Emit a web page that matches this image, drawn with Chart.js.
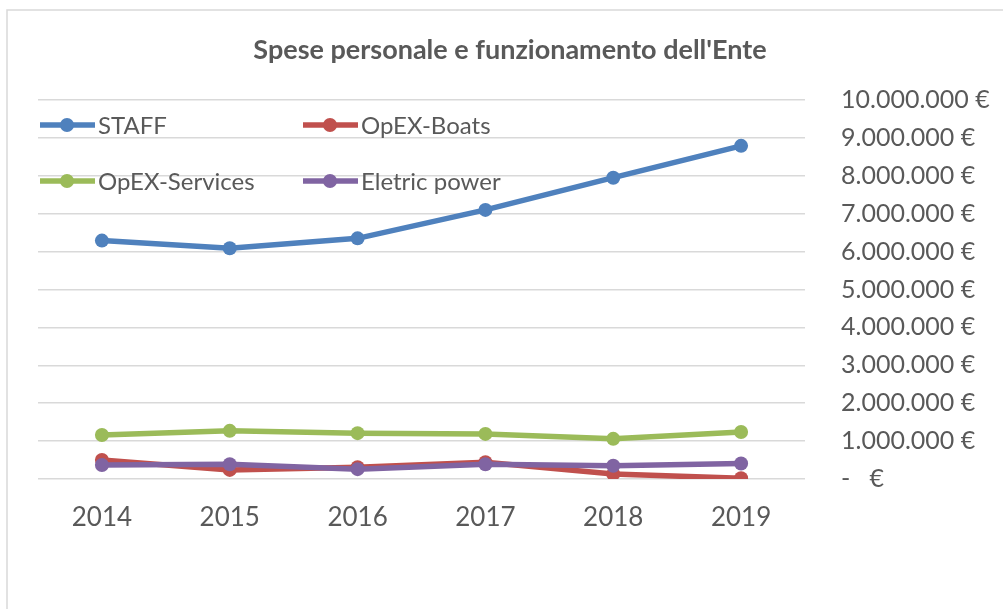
<!DOCTYPE html>
<html>
<head>
    <title>Spese personale e funzionamento dell'Ente</title>
    <script src="https://cdn.jsdelivr.net/npm/chart.js"></script>
    <style>
        body { margin: 0; background: #fff; }
    </style>
</head>
<body>
    <canvas id="myChart" width="1003" height="609"></canvas>

    <script>
        const years = ['2014', '2015', '2016', '2017', '2018', '2019'];
        const staff = [6290000, 6090000, 6350000, 7100000, 7950000, 8790000];
        const opexBoats = [500000, 240000, 310000, 440000, 130000, 20000];
        const opexServices = [1160000, 1270000, 1210000, 1190000, 1060000, 1240000];
        const eletricPower = [370000, 390000, 260000, 390000, 350000, 410000];

        const textColor = '#595959';
        const fontFamily = 'Lato, "Open Sans", sans-serif';

        function euro(v) {
            if (v === 0) return '-   €';
            return String(v).replace(/\B(?=(\d{3})+(?!\d))/g, '.') + ' €';
        }

        // frame, title and the two-column legend, drawn like the Excel original
        const decor = {
            id: 'decor',
            beforeDraw(chart) {
                const c = chart.ctx;
                c.save();
                c.strokeStyle = '#d9d9d9';
                c.lineWidth = 1.5;
                c.beginPath();
                c.moveTo(7, 609);
                c.lineTo(7, 10);
                c.lineTo(1003, 10);
                c.stroke();
                c.restore();
            },
            afterDraw(chart) {
                const c = chart.ctx;
                c.save();
                c.fillStyle = textColor;
                c.font = 'bold 27px ' + fontFamily;
                c.textAlign = 'center';
                c.textBaseline = 'middle';
                c.fillText("Spese personale e funzionamento dell'Ente", 510, 50);

                c.font = '24px ' + fontFamily;
                c.textAlign = 'left';
                chart.data.datasets.forEach((ds, i) => {
                    const x0 = 40 + (i % 2) * 263;
                    const y = 125 + Math.floor(i / 2) * 56;
                    c.strokeStyle = ds.borderColor;
                    c.lineWidth = 5.5;
                    c.beginPath();
                    c.moveTo(x0, y);
                    c.lineTo(x0 + 55, y);
                    c.stroke();
                    c.fillStyle = ds.borderColor;
                    c.beginPath();
                    c.arc(x0 + 27, y, 7, 0, Math.PI * 2);
                    c.fill();
                    c.fillStyle = textColor;
                    c.fillText(ds.label, x0 + 58, y + 1);
                });
                c.restore();
            }
        };

        function series(label, data, color, order) {
            return {
                label: label,
                data: data,
                order: order,
                borderColor: color,
                backgroundColor: color,
                borderWidth: 5.5,
                pointRadius: 7,
                pointHoverRadius: 7,
                pointBorderWidth: 0,
                tension: 0
            };
        }

        const ctx = document.getElementById('myChart').getContext('2d');
        const myChart = new Chart(ctx, {
            type: 'line',
            data: {
                labels: years,
                datasets: [
                    series('STAFF', staff, '#4f81bd', 4),
                    series('OpEX-Boats', opexBoats, '#c0504d', 3),
                    series('OpEX-Services', opexServices, '#9bbb59', 2),
                    series('Eletric power', eletricPower, '#8064a2', 1)
                ]
            },
            options: {
                responsive: false,
                animation: false,
                layout: { padding: { left: 38, top: 100, right: 0, bottom: 0 } },
                plugins: {
                    legend: { display: false },
                    title: { display: false },
                    tooltip: { enabled: false }
                },
                scales: {
                    x: {
                        offset: true,
                        grid: { display: false, drawTicks: false },
                        border: { display: false },
                        ticks: {
                            color: textColor,
                            font: { family: fontFamily, size: 26 },
                            padding: 23
                        },
                        afterFit: s => { s.height = 130; }
                    },
                    y: {
                        position: 'right',
                        min: 0,
                        max: 10000000,
                        grid: { color: '#d9d9d9', lineWidth: 1.5, drawTicks: false },
                        border: { display: false },
                        ticks: {
                            stepSize: 1000000,
                            color: textColor,
                            font: { family: fontFamily, size: 25 },
                            padding: 36,
                            callback: v => euro(v)
                        },
                        afterFit: s => { s.width = 198; }
                    }
                }
            },
            plugins: [decor]
        });
    </script>
</body>
</html>
